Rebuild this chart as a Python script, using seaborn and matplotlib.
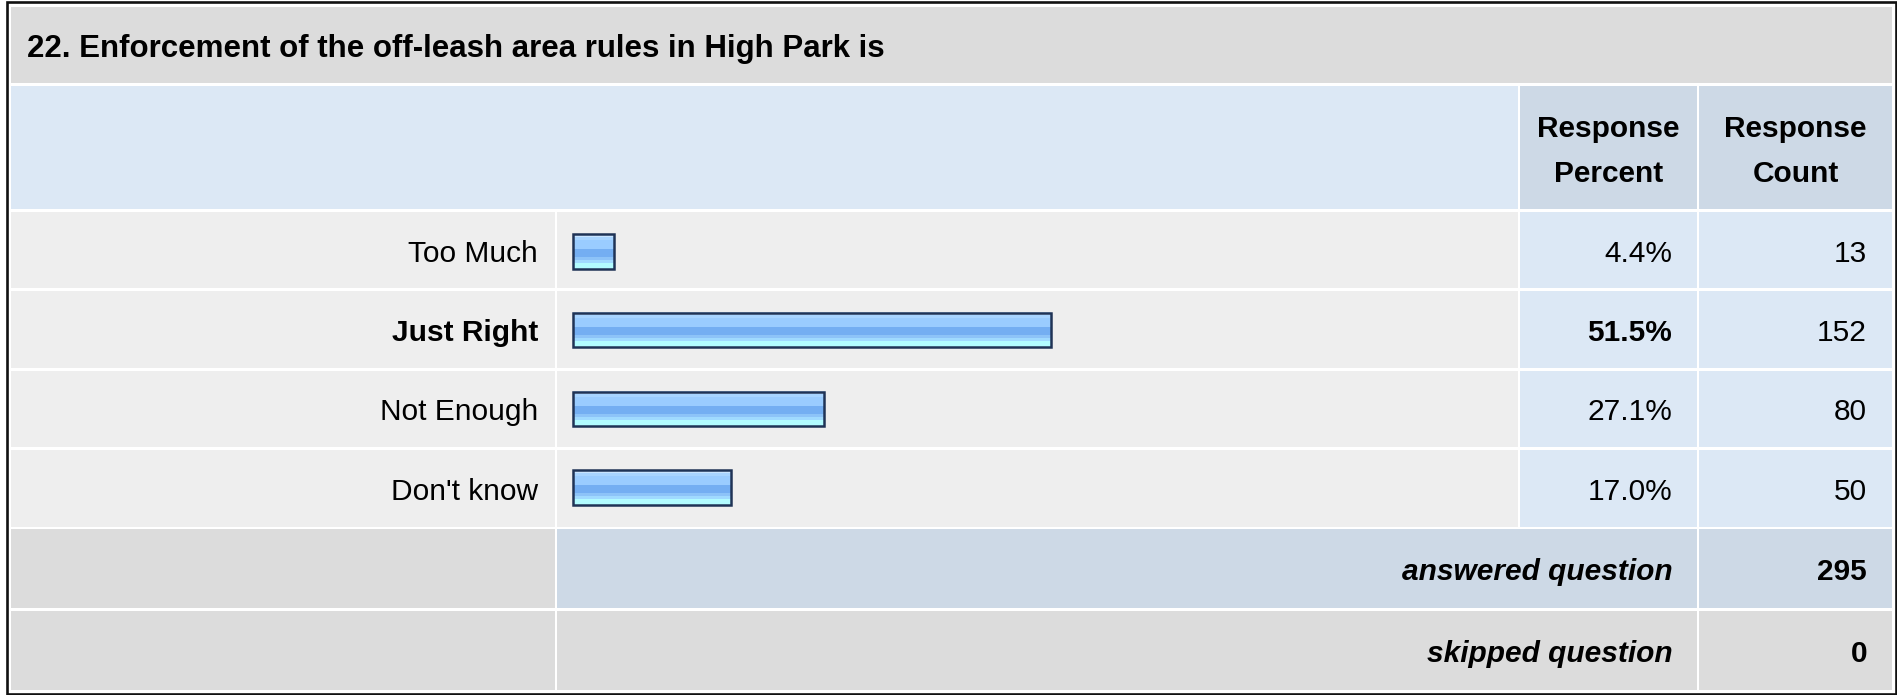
import numpy as np
import pandas as pd
import matplotlib
matplotlib.use("Agg")
import matplotlib.pyplot as plt
from matplotlib.patches import Rectangle
import seaborn as sns

# ---------------- data ----------------
title = "22. Enforcement of the off-leash area rules in High Park is"
categories = ["Too Much", "Just Right", "Not Enough", "Don't know"]
percents = [4.4, 51.5, 27.1, 17.0]
percent_labels = ["4.4%", "51.5%", "27.1%", "17.0%"]
counts = [13, 152, 80, 50]
answered_label = "answered question"
skipped_label = "skipped question"
answered = 295
skipped = 0
header_percent = ["Response", "Percent"]
header_count = ["Response", "Count"]

# ---------------- style ----------------
sns.set_theme(style="white")
plt.rcParams["font.family"] = ["Liberation Sans", "DejaVu Sans"]
plt.rcParams["text.color"] = "black"

W, H = 1897, 695
fig = plt.figure(figsize=(W / 100, H / 100), dpi=100)
fig.patch.set_facecolor("white")
bg = fig.add_axes([0, 0, 1, 1])
bg.set_xlim(0, W)
bg.set_ylim(H, 0)
bg.axis("off")

GRAY = "#DCDCDC"
LIGHT = "#EEEEEE"
BLUE = "#DCE8F5"
BLUE2 = "#CDD9E6"
FS = 21.5
TXT = "black"

cL = (11, 555)
cB = (557, 1518)
cP = (1520, 1697)
cC = (1699, 1892)
title_row = (7, 83)
header_row = (86, 209)
data_rows = [(212, 288), (291, 368), (371, 447), (450, 527)]
ans_row = (529, 608)
skip_row = (611, 690)


def cell(xs, ys, color):
    bg.add_patch(Rectangle((xs[0], ys[0]), xs[1] - xs[0], ys[1] - ys[0],
                           facecolor=color, edgecolor="none", zorder=1))


# title
cell((cL[0], cC[1]), title_row, GRAY)
bg.text(27, sum(title_row) / 2 + 11.5, title, fontsize=22.5, fontweight="bold",
        ha="left", va="baseline", color=TXT, zorder=5)

# header
cell((cL[0], cB[1]), header_row, BLUE)
cell(cP, header_row, BLUE2)
cell(cC, header_row, BLUE2)
for col, lines in ((cP, header_percent), (cC, header_count)):
    xc = (col[0] + col[1]) / 2
    bg.text(xc, 137, lines[0], fontsize=FS, fontweight="bold", ha="center",
            va="baseline", color=TXT, zorder=5)
    bg.text(xc, 182, lines[1], fontsize=FS, fontweight="bold", ha="center",
            va="baseline", color=TXT, zorder=5)

# data rows
imax = int(np.argmax(percents))
for i, ys in enumerate(data_rows):
    cell(cL, ys, LIGHT)
    cell(cB, ys, LIGHT)
    cell(cP, ys, BLUE)
    cell(cC, ys, BLUE)
    yb = (ys[0] + ys[1]) / 2 + 11.5
    w = "bold" if i == imax else "normal"
    bg.text(538, yb, categories[i], fontsize=FS, fontweight=w, ha="right",
            va="baseline", color=TXT, zorder=5)
    bg.text(1672, yb, percent_labels[i], fontsize=FS, fontweight=w, ha="right",
            va="baseline", color=TXT, zorder=5)
    bg.text(1867, yb, str(counts[i]), fontsize=FS, ha="right",
            va="baseline", color=TXT, zorder=5)

# answered / skipped
cell(cL, ans_row, GRAY)
cell((cB[0], cP[1]), ans_row, BLUE2)
cell(cC, ans_row, BLUE2)
cell(cL, skip_row, GRAY)
cell((cB[0], cP[1]), skip_row, GRAY)
cell(cC, skip_row, GRAY)
for ys, lab, val in ((ans_row, answered_label, answered),
                     (skip_row, skipped_label, skipped)):
    yb = (ys[0] + ys[1]) / 2 + 12
    bg.text(1673, yb, lab, fontsize=FS, fontweight="bold", fontstyle="italic",
            ha="right", va="baseline", color=TXT, zorder=5)
    bg.text(1867, yb, str(val), fontsize=FS, fontweight="bold",
            ha="right", va="baseline", color=TXT, zorder=5)

# outer frame
bg.add_patch(Rectangle((6.5, 2), 1889, 691.5, facecolor="none",
                       edgecolor="#111111", linewidth=1.9, zorder=6))

# ---------------- bars ----------------
top, bot = data_rows[0][0], data_rows[-1][1]
bax = fig.add_axes([cB[0] / W, 1 - bot / H, (cB[1] - cB[0]) / W, (bot - top) / H])
bax.patch.set_alpha(0)
df = pd.DataFrame({"category": categories, "percent": percents})
sns.barplot(data=df, x="percent", y="category", orient="h", width=0.44,
            ax=bax, color="#8EC0F5")

grad_colors = ["#C8E4FF", "#A8D4FF", "#9ACCFF", "#9ACCFF", "#9ACCFF",
               "#74AEF2", "#74AEF2", "#74AEF2", "#8DC3F8", "#A0DAFF",
               "#B2FCFF", "#B2FCFF"]
grad = np.array([matplotlib.colors.to_rgb(c) for c in grad_colors])[:, None, :]
for p in bax.patches:
    x0, y0, pw, ph = p.get_x(), p.get_y(), p.get_width(), p.get_height()
    bax.imshow(grad, extent=(x0, x0 + pw, y0 + ph, y0), origin="upper",
               aspect="auto", interpolation="nearest", zorder=2)
    p.set_facecolor("none")
    p.set_edgecolor("#1F3356")
    p.set_linewidth(1.8)
    p.set_zorder(3)

px_per = 9.28
bax.set_xlim(-16 / px_per, (cB[1] - cB[0] - 16) / px_per)
bax.set_ylim(len(categories) - 0.5, -0.5)
bax.axis("off")

fig.savefig("out.png", dpi=100, facecolor="white")
